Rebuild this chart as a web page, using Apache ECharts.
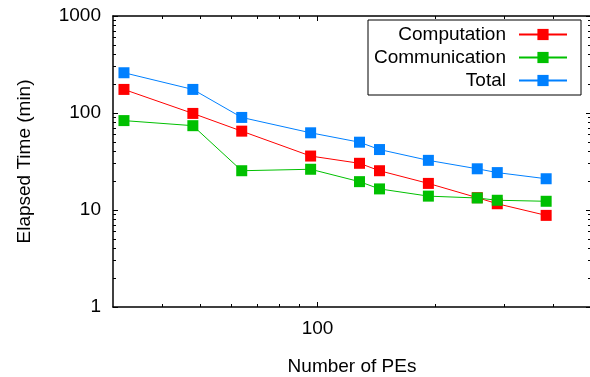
<!DOCTYPE html>
<html>
<head>
<meta charset="utf-8">
<script src="https://cdn.jsdelivr.net/npm/echarts@6/dist/echarts.min.js"></script>
<style>
    html, body { margin: 0; padding: 0; background: #fff; }
    #chart { width: 590px; height: 377px; }
</style>
</head>
<body>
<div id="chart"></div>
<script>
    // 数据
    var peCounts = [32, 48, 64, 96, 128, 144, 192, 256, 288, 384];
    var computation = [175, 99, 65, 36, 30.3, 25.4, 18.8, 13.4, 11.6, 8.8];
    var communication = [83.5, 74, 25.4, 26.3, 19.6, 16.5, 13.9, 13.3, 12.6, 12.3];
    var total = [260, 175, 90, 62.5, 50, 42, 32.5, 26.6, 24.3, 21];

    var xMajorTicks = [100];
    var xMinorTicks = [40, 50, 60, 70, 80, 90, 200, 300, 400];
    var yMajorTicks = [1, 10, 100, 1000];
    var yMinorTicks = [2, 3, 4, 5, 6, 7, 8, 9, 20, 30, 40, 50, 60, 70, 80, 90, 200, 300, 400, 500, 600, 700, 800, 900];

    var font = 'Liberation Sans, Helvetica, Arial, sans-serif';

    function pairs(ys) {
        return peCounts.map(function (x, i) { return [x, ys[i]]; });
    }

    // 坐标轴: 刻度分主/次两层叠加
    function xAxis(pos, ticks, len, withLabel, withLine) {
        return {
            type: 'log', logBase: 10, min: 30, max: 500, position: pos,
            axisLine: { show: withLine, lineStyle: { color: '#000', width: 1.5 } },
            axisTick: { show: true, inside: true, length: len, customValues: ticks, lineStyle: { color: '#000', width: 1 } },
            axisLabel: withLabel ? {
                show: true, customValues: xMajorTicks, margin: 12, color: '#000', fontSize: 19, fontFamily: font,
                formatter: function (v) { return String(v); }
            } : { show: false },
            splitLine: { show: false },
            name: withLabel ? 'Number of PEs' : '',
            nameLocation: 'middle', nameGap: 50,
            nameTextStyle: { color: '#000', fontSize: 19, fontFamily: font }
        };
    }

    function yAxis(pos, ticks, len, withLabel, withLine) {
        return {
            type: 'log', logBase: 10, min: 1, max: 1000, position: pos,
            axisLine: { show: withLine, lineStyle: { color: '#000', width: 1.5 } },
            axisTick: { show: true, inside: true, length: len, customValues: ticks, lineStyle: { color: '#000', width: 1 } },
            axisLabel: withLabel ? {
                show: true, customValues: yMajorTicks, margin: 12, color: '#000', fontSize: 19, fontFamily: font,
                formatter: function (v) { return String(v); }
            } : { show: false },
            splitLine: { show: false },
            name: withLabel ? 'Elapsed Time (min)' : '',
            nameLocation: 'middle', nameGap: 79, nameRotate: 90,
            nameTextStyle: { color: '#000', fontSize: 19, fontFamily: font }
        };
    }

    function series(name, ys, color) {
        return {
            name: name, type: 'line', data: pairs(ys),
            xAxisIndex: 1, yAxisIndex: 1,
            symbol: 'rect', symbolSize: 11,
            lineStyle: { color: color, width: 1 },
            itemStyle: { color: color },
            emphasis: { disabled: true },
            animation: false
        };
    }

    var myChart = echarts.init(document.getElementById('chart'));
    var option = {
        animation: false,
        grid: { left: 113, top: 16, width: 478, height: 291, outerBoundsMode: 'none' },
        legend: {
            orient: 'vertical', align: 'right',
            right: 9, top: 20,
            padding: [5, 13, 5, 6],
            itemGap: 4, itemWidth: 48, itemHeight: 14,
            borderColor: '#000', borderWidth: 1,
            textStyle: { color: '#000', fontSize: 19, fontFamily: font, padding: [0, 8, 0, 0] },
            data: ['Computation', 'Communication', 'Total']
        },
        xAxis: [
            xAxis('bottom', xMinorTicks, 3, false, true),
            xAxis('bottom', xMajorTicks, 5, true, false),
            xAxis('top', xMinorTicks, 3, false, true),
            xAxis('top', xMajorTicks, 5, false, false)
        ],
        yAxis: [
            yAxis('left', yMinorTicks, 3, false, true),
            yAxis('left', yMajorTicks, 5, true, false),
            yAxis('right', yMinorTicks, 3, false, true),
            yAxis('right', yMajorTicks, 5, false, false)
        ],
        series: [
            series('Computation', computation, '#ff0000'),
            series('Communication', communication, '#00c000'),
            series('Total', total, '#0080ff')
        ]
    };
    myChart.setOption(option);
</script>
</body>
</html>
